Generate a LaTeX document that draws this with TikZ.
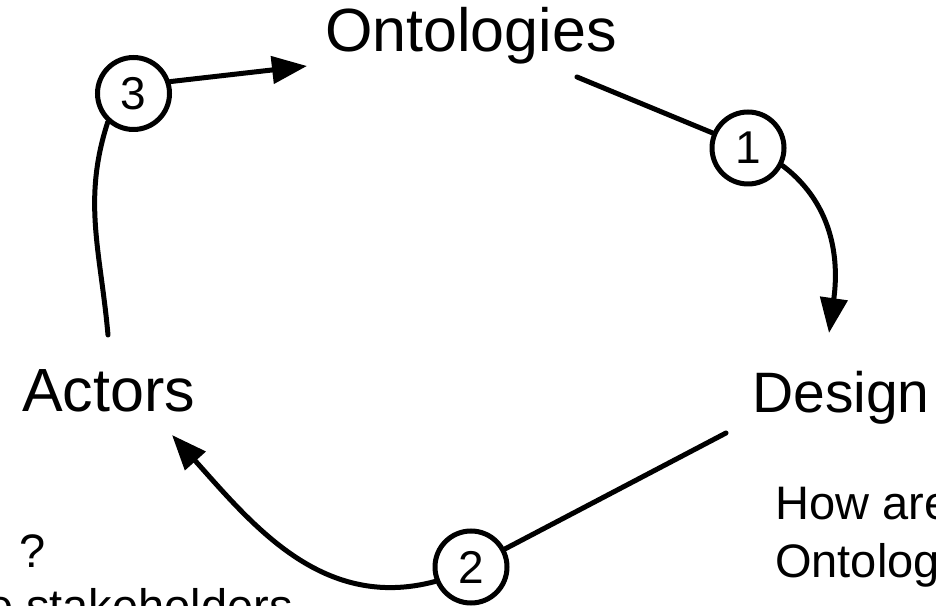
\documentclass[tikz,border=0pt]{standalone}
\usepackage{fontspec}
\setmainfont{Liberation Sans}
\usetikzlibrary{arrows.meta}
\begin{document}
\begin{tikzpicture}[x=1pt,y=1pt,
  lbl/.style={inner sep=0pt, anchor=base west, font=\fontsize{61}{61}\selectfont},
  note/.style={inner sep=0pt, font=\fontsize{47}{47}\selectfont},
  num/.style={circle, draw, line width=5pt, minimum size=72pt, inner sep=0pt, font=\fontsize{46}{46}\selectfont},
  link/.style={line width=5pt, line cap=round},
  arr/.style={link, -{Triangle[length=35pt,width=27pt]}}]
\useasboundingbox (0,0) rectangle (936,605);
\clip (0,0) rectangle (936,605);
\node[lbl] (ont) at (325,553) {Ontologies};
\node[lbl] (act) at (22,193) {Actors};
\node[lbl, font=\fontsize{57}{57}\selectfont] (des) at (752,192) {Design};
\node[note, anchor=base west] (how) at (775,86) {How are};
\node[note, anchor=base west] (ontl) at (775,28) {Ontolog};
\node[note, anchor=base west] (q) at (19,38) {?};
\node[note, anchor=base east] (stk) at (293,-17) {e stakeholders};
\node[num] (c1) at (748,457) {1};
\node[num] (c2) at (471,38) {2};
\node[num] (c3) at (133.5,511.5) {3};
\draw[link] ([shift={(252,-25)}]ont.base west) -- (c1.157);
\draw[arr] (c1.-27) to[out=-37,in=82] ([shift={(77,80)}]des.base west);
\draw[link] ([shift={(-26,-20)}]des.base west) -- (c2.28);
\draw[arr] (c2.202) to[out=195,in=-48] ([shift={(150,-23)}]act.base west);
\draw[link] ([shift={(86,77)}]act.base west) to[out=95,in=252] (c3.-132);
\draw[arr] (c3.18) -- ([shift={(-18,-14)}]ont.base west);
\end{tikzpicture}
\end{document}
